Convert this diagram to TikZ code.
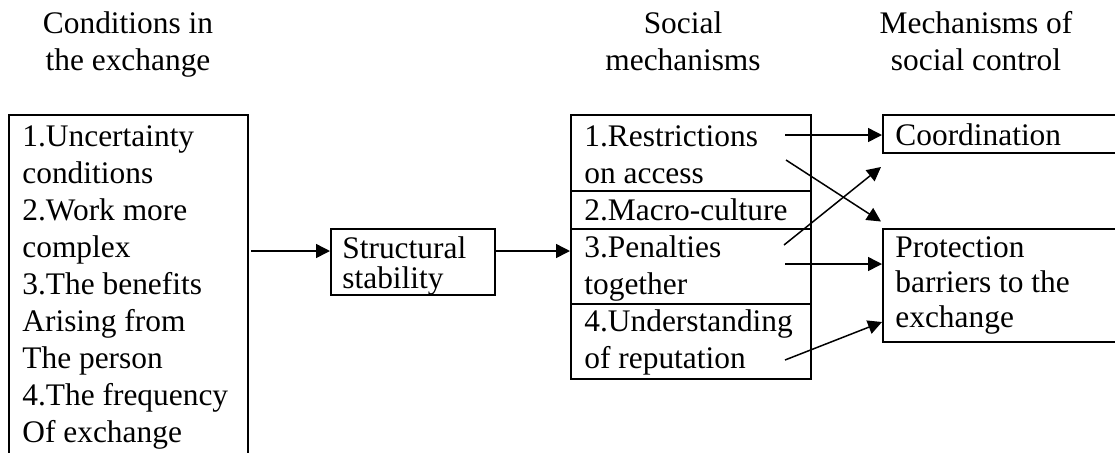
\documentclass[tikz,border=0pt]{standalone}
\usepackage{fontspec}
\setmainfont{Liberation Serif}
\usetikzlibrary{arrows.meta,fit}
\begin{document}
\begin{tikzpicture}[x=0.5pt,y=-0.5pt,
  font=\fontsize{15.7}{18.5}\selectfont,
  box/.style={draw, line width=1pt, inner sep=0pt},
  ln/.style={anchor=base west, inner sep=0pt},
  head/.style={anchor=base, inner sep=0pt},
  arr/.style={line width=0.75pt, -{Triangle[length=7pt,width=7pt]}}]
\useasboundingbox (0,0) rectangle (1115,452);
\clip (0,0) rectangle (1115,452);

% column headings
\node[head] (h1a) at (128,33) {Conditions in};
\node[head] (h1b) at (128,70) {the exchange};
\node[head] (h2a) at (683,33) {Social};
\node[head] (h2b) at (683,70) {mechanisms};
\node[head] (h3a) at (976,33) {Mechanisms of};
\node[head] (h3b) at (976,70) {social control};

% conditions in the exchange (runs off the bottom edge)
\node[box, fit={(9,115) (248,480)}] (cond) {};
\foreach \t [count=\i] in {1.Uncertainty, conditions, 2.Work more, complex,
    3.The benefits, Arising from, The person, 4.The frequency, Of exchange}
  \node[ln] (cond\i) at (22,{146+37*(\i-1)}) {\t};

% structural stability
\node[box, fit={(331,229) (495,295)}] (stab) {};
\node[ln] (stab1) at (342,258) {Structural};
\node[ln] (stab2) at (342,288.5) {stability};

% social mechanisms: four stacked cells
\node[box, fit={(571,115) (811,191)}] (m1) {};
\node[box, fit={(571,191) (811,228.5)}] (m2) {};
\node[box, fit={(571,228.5) (811,303.5)}] (m3) {};
\node[box, fit={(571,303.5) (811,378.5)}] (m4) {};
\node[ln] (m1a) at (584,146) {1.Restrictions};
\node[ln] (m1b) at (584,183) {on access};
\node[ln] (m2a) at (584,220) {2.Macro-culture};
\node[ln] (m3a) at (584,257) {3.Penalties};
\node[ln] (m3b) at (584,294) {together};
\node[ln] (m4a) at (584,331) {4.Understanding};
\node[ln] (m4b) at (584,368) {of reputation};

% mechanisms of social control (run off the right edge)
\node[box, fit={(883,115) (1130,153)}] (coord) {};
\node[ln] (coord1) at (895,145) {Coordination};
\node[box, fit={(883,229) (1130,342)}] (prot) {};
\node[ln] (prot1) at (895,257) {Protection};
\node[ln] (prot2) at (895,292) {barriers to the};
\node[ln] (prot3) at (895,327) {exchange};

% flow from conditions to mechanisms
\coordinate (s1) at (251,251);
\draw[arr] (s1) -- (stab.west |- s1);
\draw[arr] (stab.east |- s1) -- (m3.west |- s1);

% links from social mechanisms to control mechanisms
\coordinate (r1) at (785,135);
\draw[arr] (r1) -- (coord.west |- r1);
\coordinate (r2a) at (786,160);
\coordinate (r2b) at (881,221.5);
\draw[arr] (r2a) -- (r2b);
\coordinate (r3a) at (784,245);
\coordinate (r3b) at (881,167);
\draw[arr] (r3a) -- (r3b);
\coordinate (r4) at (785,264);
\draw[arr] (r4) -- (prot.west |- r4);
\coordinate (r5a) at (785,360);
\coordinate (r5b) at (882,322);
\draw[arr] (r5a) -- (r5b);
\end{tikzpicture}
\end{document}
